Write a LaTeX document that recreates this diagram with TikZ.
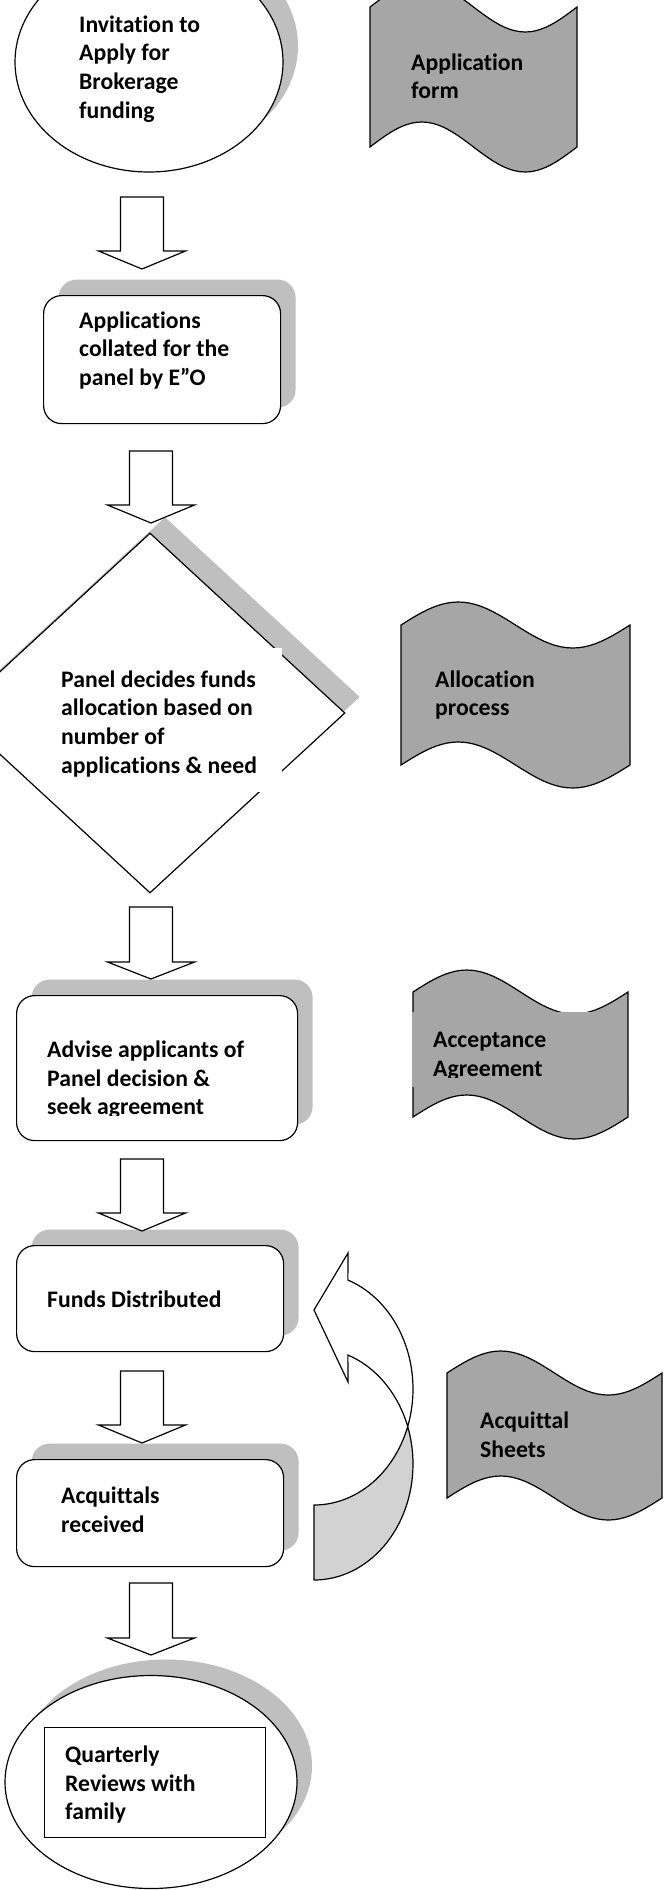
\documentclass[tikz,border=0pt]{standalone}
\usepackage{fontspec}
\setmainfont{Carlito}[Ligatures=NoCommon]
\usetikzlibrary{shapes.geometric,shadows}

\definecolor{shadowgray}{HTML}{BFBFBF}
\definecolor{tapegray}{HTML}{A6A6A6}
\definecolor{backgray}{HTML}{D2D2D2}

\tikzset{
  flow/.style={draw=black, line width=1.2pt, fill=white, inner sep=0pt},
  shade/.style={general shadow={draw=none, fill=shadowgray, shadow xshift=15pt, shadow yshift=16pt}},
  procbox/.style={flow, shade, rectangle, rounded corners=18pt},
  txt/.style={anchor=north west, inner sep=0pt, align=left, font=\fontsize{23.7}{28.7}\selectfont\bfseries},
  tapeline/.style={draw=black, line width=1.2pt, fill=tapegray},
  blockarrow/.style={draw=black, line width=1.2pt, fill=white, line join=miter},
  backface/.style={draw=black, line width=1.2pt, fill=backgray}
}

% wavy document: left x, width, top y, bottom y, wave height
\newcommand{\wavetape}[5]{%
  \draw[tapeline] plot[domain=0:1,samples=41,variable=\x] ({#1+\x*#2},{#3-#5*sin(\x*360)})
    -- plot[domain=1:0,samples=41,variable=\x] ({#1+\x*#2},{#4-#5*sin(\x*360)}) -- cycle;}

\begin{document}
\begin{tikzpicture}[x=1pt,y=-1pt]
\useasboundingbox (0,0) rectangle (665,1890);

% main column
\node[flow, shade, ellipse, minimum width=268pt, minimum height=220pt] (invite) at (149,62) {};
\node[txt] (invitetext) at (79,12) {\strut Invitation to\\Apply for\\Brokerage\\funding};

\node[procbox, anchor=north west, minimum width=237pt, minimum height=128pt] (collate) at (43,295) {};
\node[txt] (collatetext) at (79,308) {\strut Applications\\collated for the\\panel by E”O};

\node[flow, shade, diamond, minimum width=390pt, minimum height=360pt] (panel) at (150,713) {};
\fill[white] (50,648) rectangle (282,792);
\node[txt] (paneltext) at (61,667) {\strut Panel decides funds\\allocation based on\\number of\\applications \& need};

\node[procbox, anchor=north west, minimum width=281pt, minimum height=145pt] (advise) at (16,995) {};
\begin{scope}
  \clip (0,0) rectangle (665,1115);
  \node[txt] (advisetext) at (47,1037) {\strut Advise applicants of\\Panel decision \&\\seek agreement};
\end{scope}

\node[procbox, anchor=north west, minimum width=267pt, minimum height=106pt] (funds) at (16,1245) {};
\node[txt] (fundstext) at (47,1287) {\strut Funds Distributed};

\node[procbox, anchor=north west, minimum width=267pt, minimum height=107pt] (acqrec) at (16,1459) {};
\node[txt] (acqrectext) at (61,1483) {\strut Acquittals\\received};

\node[flow, shade, ellipse, minimum width=292pt, minimum height=213pt] (review) at (151,1782) {};
\node[flow, rectangle, anchor=north west, minimum width=221pt, minimum height=110pt] (reviewbox) at (44,1727) {};
\node[txt] (reviewtext) at (65,1742) {\strut Quarterly\\Reviews with\\family};

% documents on the right
\wavetape{370}{207}{7}{147}{25}
\node[txt] (appform) at (411,50) {\strut Application\\form};

\wavetape{401}{229}{625}{765}{23}
\node[txt] (alloc) at (435,667) {\strut Allocation\\process};

\wavetape{413}{215}{992}{1117}{22}
\fill[tapegray] (412,1012) rectangle (603,1087);
\begin{scope}
  \clip (0,0) rectangle (665,1077);
  \node[txt] (accept) at (433,1027) {\strut Acceptance\\Agreement};
\end{scope}

\wavetape{447}{215}{1373}{1498}{22}
\node[txt] (acqsheet) at (480,1408) {\strut Acquittal\\Sheets};

% curved arrow back to funds
\draw[backface] plot[domain=-19:-90,samples=40,variable=\x] ({314+99*cos(\x)},{1389-116*sin(\x)})
  -- plot[domain=-90:19,samples=40,variable=\x] ({314+99*cos(\x)},{1464-116*sin(\x)}) -- cycle;
\draw[blockarrow] plot[domain=70:-19,samples=40,variable=\x] ({314+99*cos(\x)},{1389-116*sin(\x)})
  -- plot[domain=19:70,samples=30,variable=\x] ({314+99*cos(\x)},{1464-116*sin(\x)})
  -- (348,1382) -- (314,1310) -- (348,1253) -- cycle;

% block arrows down the column
\foreach \cx/\ya/\yb/\yc in {142/197/251/269, 151/451/505/523, 151/907/962/979,
                            142/1159/1213/1231, 142/1371/1425/1443, 151/1583/1638/1655}
  \draw[blockarrow] (\cx-21.5,\ya) -- (\cx+21.5,\ya) -- (\cx+21.5,\yb) -- (\cx+43.5,\yb)
    -- (\cx,\yc) -- (\cx-43.5,\yb) -- (\cx-21.5,\yb) -- cycle;
\end{tikzpicture}
\end{document}
